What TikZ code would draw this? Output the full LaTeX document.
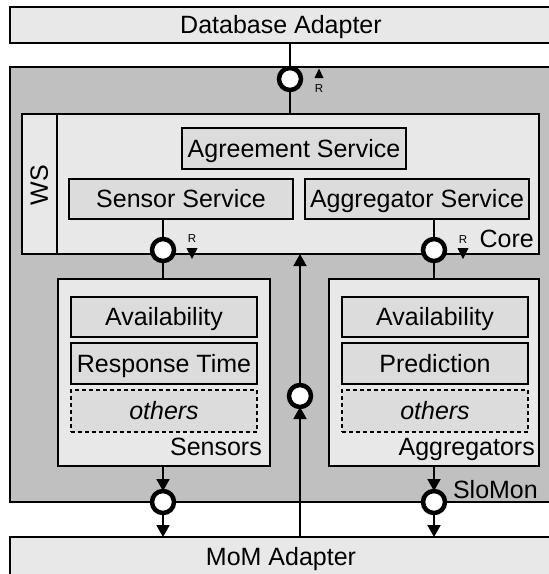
\documentclass[tikz,border=0pt]{standalone}
\usepackage{fontspec}
\setmainfont{Liberation Sans}
\usetikzlibrary{arrows.meta}
\definecolor{lightbox}{HTML}{E8E8E8}
\definecolor{innerbox}{HTML}{DCDCDC}
\definecolor{slomon}{HTML}{C0C0C0}
\begin{document}
\begin{tikzpicture}[x=1pt,y=-1pt,
  font=\fontsize{25}{30}\selectfont,
  every node/.style={text height=17.9pt, text depth=0pt},
  box/.style={draw, line width=2pt, rectangle, inner sep=0pt, outer sep=0pt},
  lbox/.style={box, fill=lightbox},
  ibox/.style={box, fill=innerbox},
  obox/.style={box, fill=innerbox, dash pattern=on 4pt off 3pt, font=\fontsize{25}{30}\selectfont\itshape},
  port/.style={circle, draw, fill=white, line width=4.5pt, minimum size=22pt, inner sep=0pt, outer sep=0pt},
  conn/.style={line width=2pt},
  arr/.style={conn, -{Triangle[width=13pt,length=12pt]}},
  small/.style={font=\fontsize{11.5}{13}\selectfont, inner sep=0pt, text height=8.2pt},
  lbl/.style={inner sep=0pt, anchor=base east}
]
\useasboundingbox (0,0) rectangle (549,574);
\clip (0,0) rectangle (549,574);
% adapters
\node[lbox, minimum width=542pt, minimum height=36pt] (db) at (281,25) {Database Adapter};
\node[lbox, minimum width=542pt, minimum height=50pt] (mom) at (281,562) {};
\node[inner sep=0pt] (momt) at (281,557) {MoM Adapter};
% SloMon container
\node[box, fill=slomon, minimum width=542pt, minimum height=435pt] (slo) at (281,284.5) {};
\node[lbl] (slot) at (538,498) {SloMon};
% Core
\node[lbox, minimum width=517pt, minimum height=140pt] (core) at (280.5,184) {};
\node[lbox, minimum width=35pt, minimum height=140pt] (ws) at (39.5,184) {};
\node[rotate=90, inner sep=0pt] (wst) at (39,185) {WS};
\node[lbl] (coret) at (534,247) {Core};
\node[ibox, minimum width=224pt, minimum height=41pt] (agr) at (294,148.5) {Agreement Service};
\node[ibox, minimum width=224pt, minimum height=40pt] (sens) at (181,199) {Sensor Service};
\node[ibox, minimum width=224pt, minimum height=40pt] (aggs) at (417,199) {Aggregator Service};
% Sensors
\node[lbox, minimum width=212pt, minimum height=187pt] (sensors) at (164,372.5) {};
\node[lbl] (sensorst) at (262,455) {Sensors};
\node[ibox, minimum width=186pt, minimum height=40pt] (sa) at (164,317) {Availability};
\node[ibox, minimum width=186pt, minimum height=41pt] (sr) at (164,363.5) {Response Time};
\node[obox, minimum width=186pt, minimum height=42pt] (so) at (164,411) {others};
% Aggregators
\node[lbox, minimum width=210pt, minimum height=187pt] (aggr) at (434,372.5) {};
\node[lbl] (aggrt) at (535,455) {Aggregators};
\node[ibox, minimum width=186pt, minimum height=40pt] (aa) at (435,317) {Availability};
\node[ibox, minimum width=186pt, minimum height=41pt] (ap) at (435,363.5) {Prediction};
\node[obox, minimum width=186pt, minimum height=42pt] (ao) at (435,411) {others};
% ports
\node[port] (ptop) at (290,79) {};
\node[port] (pl) at (163,250) {};
\node[port] (pr) at (434,250) {};
\node[port] (pm) at (300,396) {};
\node[port] (pbl) at (163,502) {};
\node[port] (pbr) at (434,502) {};
% connectors
\draw[conn] (ptop |- db.south) -- (ptop.north);
\draw[conn] (ptop.south) -- (ptop |- core.north);
\draw[conn] (pl |- sens.south) -- (pl.north);
\draw[conn] (pl.south) -- (pl |- sensors.north);
\draw[conn] (pr |- aggs.south) -- (pr.north);
\draw[conn] (pr.south) -- (pr |- aggr.north);
\draw[arr] (pbl |- sensors.south) -- (pbl.north);
\draw[arr] (pbl.south) -- (pbl |- mom.north);
\draw[arr] (pbr |- aggr.south) -- (pbr.north);
\draw[arr] (pbr.south) -- (pbr |- mom.north);
\draw[arr] (pm |- mom.north) -- (pm.south);
\draw[arr] (pm.north) -- (pm |- core.south);
% R markers
\fill (314.5,78) -- (323.5,78) -- (319,68.5) -- cycle;
\node[small] (rt) at (319,88) {R};
\node[small] (rl) at (192,238.5) {R};
\fill (186.5,248) -- (197.5,248) -- (192,259) -- cycle;
\node[small] (rr) at (463,239) {R};
\fill (457.5,248) -- (468.5,248) -- (463,259) -- cycle;
\end{tikzpicture}
\end{document}
